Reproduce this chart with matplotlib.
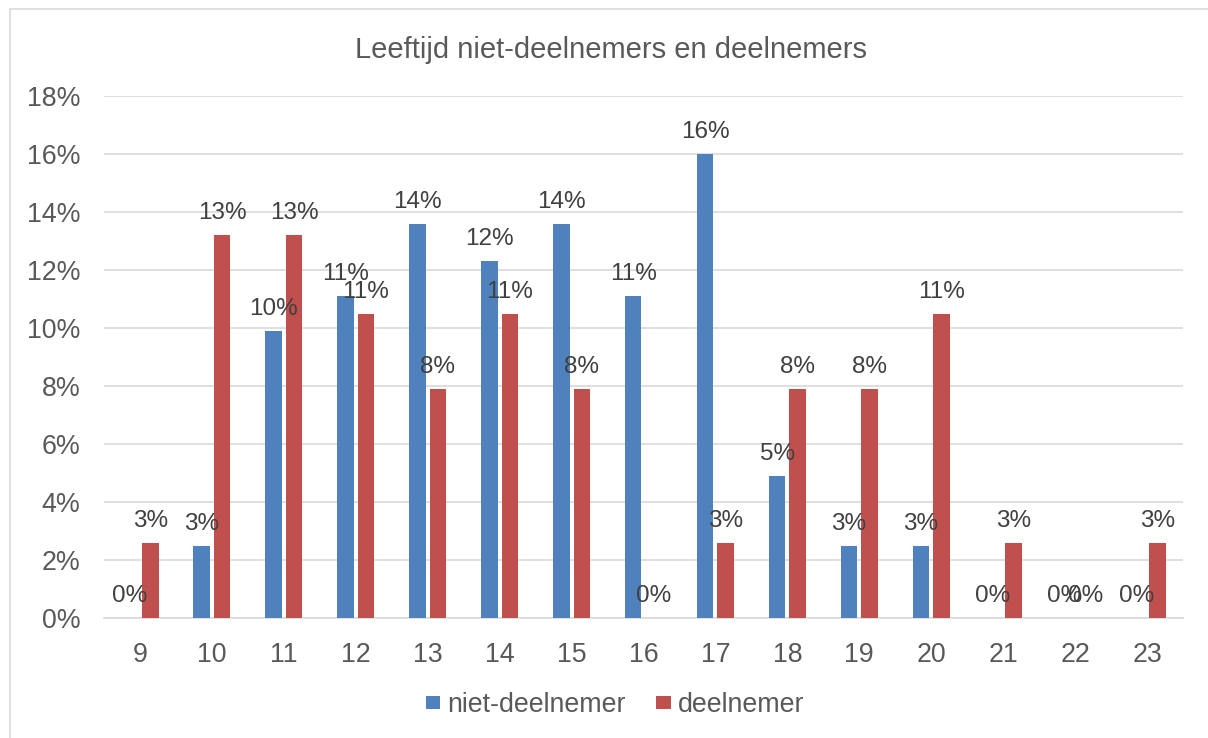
import matplotlib
matplotlib.use("Agg")
import matplotlib.pyplot as plt
import numpy as np
from matplotlib.patches import Rectangle

plt.rcParams['font.family'] = ['Liberation Sans', 'DejaVu Sans']

ages = ['9', '10', '11', '12', '13', '14', '15', '16', '17', '18', '19', '20', '21', '22', '23']
niet_deelnemer = [0, 2.5, 9.9, 11.1, 13.6, 12.3, 13.6, 11.1, 16.0, 4.9, 2.5, 2.5, 0, 0, 0]
deelnemer = [2.6, 13.2, 13.2, 10.5, 7.9, 10.5, 7.9, 0, 2.6, 7.9, 7.9, 10.5, 2.6, 0, 2.6]
yticks = [0, 2, 4, 6, 8, 10, 12, 14, 16, 18]

blue = '#4F81BD'
red = '#C0504D'
txt = '#595959'

fig = plt.figure(figsize=(12.08, 7.38), dpi=100)
# chart border (runs off the right/bottom edge in the reference)
fig.patches.append(Rectangle((10 / 1208, -0.05), 1.1, 1 - 9 / 738 + 0.05,
                             transform=fig.transFigure, fill=False,
                             edgecolor='#D9D9D9', lw=1.2))

ax = fig.add_axes([104 / 1208, 1 - 618 / 738, (1183 - 104) / 1208, (618 - 96) / 738])
x = np.arange(len(ages))
w = 0.23
off = 0.143
b1 = ax.bar(x - off, niet_deelnemer, w, color=blue, label='niet-deelnemer', zorder=3)
b2 = ax.bar(x + off, deelnemer, w, color=red, label='deelnemer', zorder=3)

# data labels, rounded like Excel does (half up)
for bars, vals in ((b1, niet_deelnemer), (b2, deelnemer)):
    for r, v in zip(bars, vals):
        ax.annotate(f"{int(v + 0.5)}%", (r.get_x() + r.get_width() / 2, v),
                    xytext=(0, 11.5), textcoords='offset points',
                    ha='center', va='baseline', fontsize=17.5, color='#404040')

ax.set_xlim(-0.5, len(ages) - 0.5)
ax.set_ylim(0, 18)
ax.set_yticks(yticks)
ax.set_yticklabels([f"{t}%" for t in yticks])
ax.set_xticks(x)
ax.set_xticklabels(ages)
ax.tick_params(axis='both', length=0, labelsize=19.3, labelcolor=txt)
ax.tick_params(axis='y', pad=17)
ax.tick_params(axis='x', pad=17)
ax.grid(axis='y', color='#D9D9D9', lw=1.2, zorder=0)
for s in ['top', 'right', 'left']:
    ax.spines[s].set_visible(False)
ax.spines['bottom'].set_color('#D9D9D9')
ax.spines['bottom'].set_linewidth(1.2)

fig.text(611 / 1208, 1 - 50 / 738, 'Leeftijd niet-deelnemers en deelnemers',
         ha='center', va='center', fontsize=21, color=txt)

fig.legend(loc='center', bbox_to_anchor=(615 / 1208, 1 - 705 / 738), ncol=2,
           frameon=False, fontsize=19.3, labelcolor=txt, handlelength=0.55,
           handleheight=0.4, handletextpad=0.25, columnspacing=1.15)

fig.savefig('out.png', dpi=100)
